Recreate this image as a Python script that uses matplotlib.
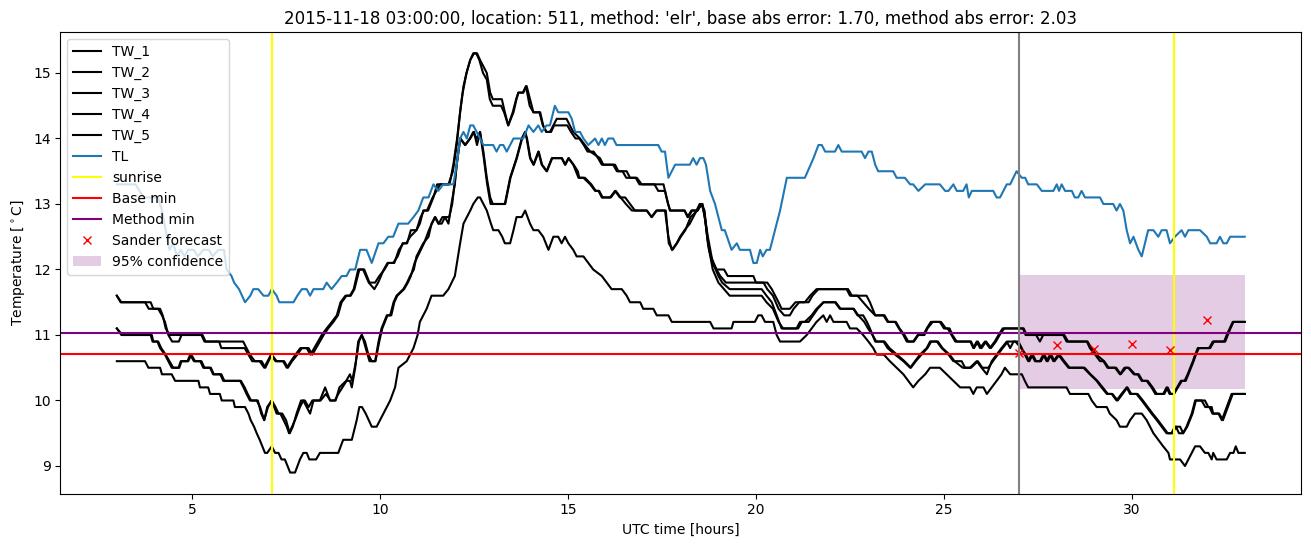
import matplotlib
matplotlib.use("Agg")
import matplotlib.pyplot as plt

TITLE = ("2015-11-18 03:00:00, location: 511, method: 'elr', "
         "base abs error: 1.70, method abs error: 2.03")

TW_1 = [
    (3.0, 11.6), (3.1, 11.5), (3.75, 11.5), (3.85, 11.4), (4.1, 11.4), (4.2, 11.3),
    (4.28, 11.2), (4.37, 11.0), (4.47, 10.9), (4.65, 10.9), (4.72, 11.0), (5.25, 11.0),
    (5.33, 10.9), (5.72, 10.9), (5.78, 10.8), (6.4, 10.8), (6.5, 10.7), (6.6, 10.6),
    (6.8, 10.6), (6.92, 10.5), (7.1, 10.7), (7.22, 10.6), (7.42, 10.6), (7.52, 10.5),
    (7.63, 10.6), (7.75, 10.7), (7.88, 10.8), (8.05, 10.8), (8.15, 10.7), (8.25, 10.8),
    (8.35, 10.9), (8.45, 11.0), (8.58, 11.1), (8.72, 11.2), (8.85, 11.3), (8.95, 11.5),
    (9.08, 11.6), (9.2, 11.6), (9.3, 11.7), (9.42, 12.0), (9.55, 12.0), (9.7, 11.8),
    (9.85, 11.7), (9.95, 11.8), (10.1, 12.0), (10.2, 12.1), (10.35, 12.1), (10.47, 12.2),
    (10.6, 12.4), (10.7, 12.4), (10.8, 12.5), (10.97, 12.6), (11.06, 12.7), (11.15, 12.9),
    (11.25, 12.9), (11.4, 13.1), (11.5, 13.2), (11.6, 13.3), (11.85, 13.3), (11.95, 13.6),
    (12.05, 14.0), (12.15, 14.5), (12.22, 14.8), (12.3, 15.0), (12.4, 15.2), (12.5, 15.3),
    (12.58, 15.3), (12.66, 15.2), (12.75, 15.1), (12.84, 15.0), (12.93, 14.7), (13.0, 14.6),
    (13.24, 14.6), (13.32, 14.4), (13.41, 14.2), (13.55, 14.4), (13.63, 14.6), (13.68, 14.7),
    (13.81, 14.7), (13.9, 14.8), (13.99, 14.6), (14.08, 14.4), (14.26, 14.4), (14.34, 14.2),
    (14.43, 14.1), (14.52, 14.1), (14.61, 14.2), (14.7, 14.3), (14.96, 14.3), (15.05, 14.2),
    (15.14, 14.1), (15.32, 14.0), (15.45, 13.9), (15.59, 13.8), (15.85, 13.7), (15.94, 13.6),
    (16.25, 13.6), (16.34, 13.5), (16.56, 13.5), (16.65, 13.4), (16.83, 13.4), (16.96, 13.3),
    (17.54, 13.3), (17.62, 13.1), (17.71, 12.9), (18.1, 12.9), (18.2, 12.8), (18.3, 12.9),
    (18.42, 12.9), (18.5, 13.0), (18.58, 13.0), (18.66, 12.7), (18.75, 12.3), (18.85, 12.1),
    (18.95, 12.0), (19.15, 12.0), (19.25, 11.9), (19.93, 11.9), (20.0, 11.8), (20.3, 11.8),
    (20.42, 11.7), (20.51, 11.6), (20.6, 11.5), (20.68, 11.4), (20.9, 11.4), (21.05, 11.5),
    (21.3, 11.5), (21.44, 11.6), (21.61, 11.7), (22.41, 11.7), (22.5, 11.6), (22.94, 11.6),
    (23.03, 11.5), (23.17, 11.3), (23.39, 11.3), (23.5, 11.2), (23.7, 11.2), (23.8, 11.1),
    (23.92, 11.0), (24.01, 10.9), (24.18, 10.9), (24.3, 11.0), (24.45, 11.0), (24.54, 11.1),
    (24.65, 11.2), (24.89, 11.2), (25.0, 11.1), (25.1, 11.1), (25.2, 11.0), (25.3, 10.9),
    (25.7, 10.9), (25.78, 10.8), (25.87, 10.9), (25.96, 10.8), (26.09, 10.9), (26.22, 10.8),
    (26.35, 10.9), (26.45, 11.0), (26.56, 11.1), (27.1, 11.1), (27.17, 11.0), (27.45, 11.0),
    (27.55, 10.9), (27.64, 11.0), (28.17, 11.0), (28.26, 10.9), (28.8, 10.9), (28.88, 10.8),
    (29.02, 10.7), (29.15, 10.6), (29.24, 10.6), (29.35, 10.5), (29.55, 10.5), (29.68, 10.4),
    (29.8, 10.5), (29.9, 10.5), (30.05, 10.4), (30.15, 10.4), (30.26, 10.3), (30.39, 10.3),
    (30.52, 10.2), (30.62, 10.1), (30.83, 10.1), (30.92, 10.2), (31.0, 10.1), (31.1, 10.1),
    (31.2, 10.2), (31.3, 10.3), (31.4, 10.3), (31.48, 10.4), (31.55, 10.5), (31.62, 10.6),
    (31.68, 10.7), (31.75, 10.8), (32.05, 10.8), (32.15, 10.9), (32.45, 10.9), (32.52, 11.0),
    (32.6, 11.1), (32.68, 11.2), (33.0, 11.2),
]

TW_2 = [
    (3.0, 11.6), (3.12, 11.5), (3.9, 11.5), (3.97, 11.4), (4.15, 11.4), (4.22, 11.3),
    (4.3, 11.1), (4.4, 11.0), (5.28, 11.0), (5.36, 10.9), (6.36, 10.9), (6.45, 10.8),
    (6.54, 10.7), (6.67, 10.6), (6.85, 10.6), (6.95, 10.5), (7.12, 10.7), (7.25, 10.6),
    (7.45, 10.6), (7.55, 10.5), (7.66, 10.6), (7.8, 10.7), (7.92, 10.8), (8.1, 10.8),
    (8.2, 10.7), (8.3, 10.8), (8.4, 10.9), (8.5, 11.0), (8.62, 11.1), (8.76, 11.2),
    (8.88, 11.3), (8.98, 11.5), (9.11, 11.6), (9.22, 11.6), (9.32, 11.7), (9.45, 12.0),
    (9.58, 12.0), (9.72, 11.8), (9.87, 11.8), (9.98, 11.9), (10.12, 12.0), (10.22, 12.1),
    (10.38, 12.1), (10.5, 12.3), (10.62, 12.4), (10.72, 12.4), (10.82, 12.6), (10.97, 12.6),
    (11.08, 12.8), (11.17, 12.9), (11.28, 12.9), (11.42, 13.1), (11.52, 13.3), (11.82, 13.3),
    (11.94, 13.5), (12.04, 13.9), (12.13, 14.4), (12.2, 14.7), (12.3, 15.0), (12.4, 15.2),
    (12.48, 15.3), (12.56, 15.3), (12.64, 15.2), (12.74, 15.0), (12.84, 14.9), (12.92, 14.6),
    (13.0, 14.5), (13.22, 14.5), (13.3, 14.4), (13.41, 14.2), (13.53, 14.4), (13.62, 14.6),
    (13.68, 14.7), (13.8, 14.7), (13.88, 14.8), (13.98, 14.5), (14.08, 14.4), (14.24, 14.4),
    (14.33, 14.2), (14.42, 14.1), (14.55, 14.1), (14.63, 14.2), (14.72, 14.2), (14.98, 14.2),
    (15.08, 14.1), (15.2, 14.0), (15.3, 14.0), (15.42, 13.9), (15.52, 13.8), (15.68, 13.8),
    (15.8, 13.7), (15.9, 13.6), (16.2, 13.6), (16.3, 13.5), (16.45, 13.5), (16.55, 13.4),
    (16.8, 13.4), (16.9, 13.3), (17.3, 13.3), (17.4, 13.2), (17.58, 13.2), (17.66, 13.0),
    (17.72, 12.9), (18.1, 12.9), (18.18, 12.8), (18.28, 12.9), (18.45, 12.9), (18.55, 13.0),
    (18.62, 12.9), (18.7, 12.5), (18.8, 12.2), (18.95, 12.0), (19.05, 11.9), (19.2, 11.8),
    (20.2, 11.8), (20.3, 11.7), (20.45, 11.6), (20.6, 11.4), (20.75, 11.3), (20.9, 11.3),
    (21.0, 11.4), (21.15, 11.5), (21.4, 11.5), (21.5, 11.6), (21.66, 11.7), (22.45, 11.7),
    (22.55, 11.6), (22.7, 11.6), (22.85, 11.5), (23.0, 11.4), (23.17, 11.3), (23.42, 11.3),
    (23.52, 11.2), (23.72, 11.2), (23.82, 11.1), (23.95, 11.0), (24.05, 10.9), (24.2, 10.9),
    (24.32, 11.0), (24.48, 11.0), (24.56, 11.1), (24.7, 11.2), (24.92, 11.2), (25.05, 11.1),
    (25.15, 11.1), (25.22, 11.0), (25.34, 10.9), (25.72, 10.9), (25.8, 10.8), (25.9, 10.9),
    (26.0, 10.8), (26.12, 10.9), (26.25, 10.8), (26.38, 10.9), (26.48, 11.0), (26.6, 11.1),
    (27.12, 11.1), (27.2, 11.0), (28.2, 11.0), (28.3, 10.9), (28.82, 10.9), (28.92, 10.8),
    (29.05, 10.7), (29.26, 10.6), (29.38, 10.5), (29.58, 10.5), (29.7, 10.4), (29.84, 10.5),
    (29.92, 10.5), (30.08, 10.4), (30.18, 10.4), (30.28, 10.3), (30.42, 10.3), (30.55, 10.2),
    (30.66, 10.1), (30.86, 10.1), (30.95, 10.2), (31.03, 10.1), (31.12, 10.1), (31.22, 10.2),
    (31.33, 10.3), (31.43, 10.3), (31.5, 10.4), (31.57, 10.5), (31.64, 10.6), (31.7, 10.7),
    (31.78, 10.8), (32.08, 10.8), (32.18, 10.9), (32.48, 10.9), (32.55, 11.0), (32.62, 11.1),
    (32.7, 11.2), (33.0, 11.2),
]

TW_3 = [
    (3.0, 11.1), (3.15, 11.0), (3.93, 11.0), (3.97, 10.9), (4.08, 10.9), (4.15, 10.8),
    (4.28, 10.7), (4.37, 10.6), (4.46, 10.5), (4.64, 10.5), (4.7, 10.6), (4.88, 10.6),
    (4.95, 10.7), (5.05, 10.6), (5.22, 10.6), (5.3, 10.5), (5.48, 10.5), (5.56, 10.4),
    (5.75, 10.4), (5.83, 10.3), (6.28, 10.3), (6.37, 10.2), (6.45, 10.1), (6.54, 10.0),
    (6.72, 10.0), (6.81, 9.9), (6.92, 9.7), (7.0, 9.9), (7.12, 10.0), (7.25, 9.8),
    (7.35, 9.8), (7.52, 9.6), (7.58, 9.5), (7.74, 9.7), (7.87, 9.9), (7.96, 10.0),
    (8.05, 9.9), (8.14, 9.8), (8.23, 10.0), (8.4, 10.0), (8.54, 10.2), (8.67, 10.0),
    (8.8, 10.0), (8.89, 10.1), (9.0, 10.2), (9.11, 10.3), (9.2, 10.3), (9.25, 10.2),
    (9.34, 10.5), (9.42, 10.9), (9.51, 11.0), (9.6, 10.9), (9.69, 10.7), (9.78, 10.6),
    (9.87, 10.6), (9.96, 10.9), (10.04, 11.1), (10.18, 11.3), (10.27, 11.3), (10.36, 11.5),
    (10.44, 11.6), (10.62, 11.7), (10.72, 11.8), (10.8, 11.9), (10.9, 12.0), (10.97, 12.2),
    (11.15, 12.4), (11.29, 12.5), (11.37, 12.7), (11.46, 12.8), (11.55, 12.7), (11.64, 12.7),
    (11.73, 12.8), (11.82, 12.7), (11.9, 13.0), (11.99, 13.3), (12.04, 13.6), (12.13, 14.0),
    (12.26, 13.9), (12.39, 14.0), (12.48, 14.1), (12.57, 14.0), (12.66, 14.1), (12.75, 13.8),
    (12.84, 13.4), (12.93, 13.1), (13.0, 13.0), (13.32, 13.0), (13.46, 13.4), (13.63, 13.7),
    (13.77, 14.0), (13.86, 14.1), (13.9, 14.0), (13.99, 13.7), (14.08, 13.6), (14.21, 13.8),
    (14.3, 13.6), (14.43, 13.5), (14.57, 13.7), (14.83, 13.7), (14.92, 13.6), (15.01, 13.7),
    (15.14, 13.6), (15.28, 13.4), (15.41, 13.4), (15.59, 13.3), (15.72, 13.2), (15.81, 13.2),
    (15.9, 13.1), (16.12, 13.1), (16.25, 13.2), (16.38, 13.1), (16.52, 13.1), (16.65, 13.0),
    (16.78, 12.9), (17.09, 12.9), (17.23, 12.8), (17.36, 12.9), (17.58, 12.9), (17.67, 12.5),
    (17.76, 12.3), (17.89, 12.4), (17.98, 12.5), (18.1, 12.6), (18.24, 12.7), (18.42, 12.9),
    (18.56, 13.0), (18.64, 12.8), (18.72, 12.5), (18.85, 12.1), (19.0, 11.9), (19.1, 11.8),
    (19.3, 11.7), (20.15, 11.7), (20.28, 11.6), (20.42, 11.5), (20.55, 11.3), (20.68, 11.1),
    (21.08, 11.1), (21.17, 11.2), (21.3, 11.2), (21.48, 11.3), (21.61, 11.4), (21.79, 11.5),
    (22.1, 11.5), (22.23, 11.4), (22.59, 11.4), (22.7, 11.3), (22.85, 11.3), (22.95, 11.2),
    (23.03, 11.1), (23.17, 10.9), (23.39, 10.9), (23.5, 10.8), (23.7, 10.7), (23.92, 10.6),
    (24.1, 10.5), (24.23, 10.6), (24.36, 10.7), (24.54, 10.8), (24.63, 10.9), (24.81, 10.9),
    (24.94, 10.8), (25.12, 10.7), (25.25, 10.6), (25.47, 10.6), (25.56, 10.5), (25.69, 10.5),
    (25.87, 10.6), (26.0, 10.5), (26.14, 10.4), (26.27, 10.6), (26.4, 10.7), (26.53, 10.8),
    (26.67, 10.9), (26.76, 10.8), (26.85, 10.9), (26.98, 10.9), (27.07, 10.8), (27.15, 10.7),
    (27.24, 10.6), (27.33, 10.7), (27.42, 10.6), (27.55, 10.6), (27.64, 10.7), (27.73, 10.6),
    (27.82, 10.7), (27.91, 10.6), (28.04, 10.7), (28.17, 10.6), (28.31, 10.5), (28.71, 10.5),
    (28.88, 10.4), (29.06, 10.3), (29.19, 10.2), (29.33, 10.1), (29.46, 10.1), (29.59, 10.0),
    (29.72, 10.1), (29.86, 10.2), (29.95, 10.1), (30.12, 10.1), (30.26, 10.0), (30.39, 9.9),
    (30.52, 9.8), (30.66, 9.7), (30.79, 9.6), (30.92, 9.5), (31.05, 9.5), (31.14, 9.6),
    (31.28, 9.6), (31.36, 9.5), (31.45, 9.6), (31.59, 9.8), (31.68, 10.0), (31.94, 10.0),
    (32.03, 9.9), (32.12, 9.9), (32.16, 9.8), (32.3, 9.8), (32.39, 9.7), (32.52, 9.9),
    (32.65, 10.1), (33.0, 10.1),
]

TW_4 = [
    (3.0, 11.1), (3.12, 11.0), (3.9, 11.0), (3.95, 10.9), (4.1, 10.9), (4.18, 10.8),
    (4.3, 10.7), (4.4, 10.6), (4.5, 10.5), (4.66, 10.5), (4.72, 10.6), (4.9, 10.6),
    (4.98, 10.7), (5.08, 10.6), (5.25, 10.6), (5.33, 10.5), (5.5, 10.5), (5.58, 10.4),
    (5.78, 10.4), (5.86, 10.3), (6.3, 10.3), (6.4, 10.2), (6.48, 10.1), (6.57, 10.0),
    (6.75, 10.0), (6.84, 9.8), (6.92, 9.7), (7.02, 9.9), (7.12, 10.0), (7.22, 9.9),
    (7.3, 9.8), (7.4, 9.8), (7.5, 9.7), (7.6, 9.5), (7.68, 9.6), (7.78, 9.8),
    (7.9, 10.0), (8.0, 10.0), (8.1, 9.9), (8.2, 10.0), (8.42, 10.0), (8.56, 10.1),
    (8.68, 10.0), (8.82, 10.0), (8.92, 10.2), (9.1, 10.3), (9.2, 10.4), (9.26, 10.3),
    (9.36, 10.6), (9.44, 10.9), (9.52, 11.0), (9.62, 10.8), (9.72, 10.6), (9.88, 10.6),
    (9.98, 10.9), (10.06, 11.1), (10.2, 11.3), (10.3, 11.3), (10.38, 11.5), (10.46, 11.6),
    (10.64, 11.7), (10.74, 11.8), (10.82, 11.9), (10.92, 12.1), (11.0, 12.2), (11.17, 12.4),
    (11.3, 12.6), (11.38, 12.7), (11.47, 12.8), (11.56, 12.7), (11.66, 12.8), (11.75, 12.8),
    (11.84, 12.8), (11.92, 13.0), (12.0, 13.4), (12.06, 13.7), (12.14, 14.0), (12.27, 13.9),
    (12.4, 14.0), (12.5, 14.1), (12.58, 13.9), (12.66, 14.1), (12.76, 13.7), (12.85, 13.3),
    (12.94, 13.0), (13.33, 13.0), (13.47, 13.4), (13.64, 13.7), (13.78, 14.0), (13.86, 14.1),
    (13.91, 14.0), (14.0, 13.7), (14.09, 13.6), (14.22, 13.8), (14.31, 13.6), (14.44, 13.5),
    (14.58, 13.7), (14.84, 13.7), (14.93, 13.6), (15.02, 13.7), (15.15, 13.6), (15.26, 13.5),
    (15.3, 13.4), (15.45, 13.4), (15.62, 13.3), (15.74, 13.2), (15.83, 13.2), (15.92, 13.1),
    (16.14, 13.1), (16.27, 13.2), (16.4, 13.1), (16.54, 13.0), (16.7, 12.9), (17.1, 12.9),
    (17.22, 12.8), (17.35, 12.9), (17.6, 12.9), (17.68, 12.4), (17.78, 12.3), (17.9, 12.4),
    (18.0, 12.5), (18.12, 12.6), (18.26, 12.8), (18.44, 12.9), (18.55, 13.0), (18.63, 12.9),
    (18.72, 12.4), (18.85, 12.0), (19.0, 11.8), (19.15, 11.7), (19.3, 11.6), (20.15, 11.6),
    (20.28, 11.5), (20.45, 11.4), (20.6, 11.2), (20.72, 11.1), (21.12, 11.1), (21.22, 11.2),
    (21.4, 11.2), (21.52, 11.3), (21.64, 11.4), (21.8, 11.5), (22.12, 11.5), (22.25, 11.4),
    (22.6, 11.4), (22.72, 11.3), (22.88, 11.2), (22.98, 11.1), (23.1, 11.0), (23.2, 10.9),
    (23.42, 10.9), (23.55, 10.8), (23.75, 10.7), (23.95, 10.6), (24.12, 10.5), (24.25, 10.6),
    (24.4, 10.7), (24.56, 10.8), (24.66, 10.9), (24.84, 10.9), (24.96, 10.8), (25.15, 10.7),
    (25.28, 10.6), (25.5, 10.5), (25.72, 10.5), (25.9, 10.6), (26.02, 10.5), (26.18, 10.5),
    (26.3, 10.6), (26.43, 10.7), (26.56, 10.8), (26.7, 10.9), (26.9, 10.9), (27.05, 10.8),
    (27.18, 10.7), (27.27, 10.6), (27.36, 10.7), (27.45, 10.6), (27.58, 10.6), (27.67, 10.7),
    (27.76, 10.6), (27.85, 10.7), (27.94, 10.6), (28.07, 10.7), (28.2, 10.6), (28.34, 10.5),
    (28.74, 10.5), (28.9, 10.4), (29.08, 10.3), (29.22, 10.2), (29.36, 10.1), (29.48, 10.1),
    (29.62, 10.0), (29.75, 10.1), (29.88, 10.2), (29.98, 10.1), (30.15, 10.1), (30.29, 10.0),
    (30.42, 9.9), (30.55, 9.8), (30.69, 9.7), (30.82, 9.6), (30.95, 9.5), (31.08, 9.5),
    (31.17, 9.6), (31.25, 9.5), (31.36, 9.5), (31.47, 9.6), (31.61, 9.8), (31.7, 10.0),
    (31.85, 10.0), (31.95, 9.9), (32.06, 9.9), (32.14, 9.8), (32.32, 9.8), (32.42, 9.7),
    (32.55, 9.9), (32.68, 10.1), (33.0, 10.1),
]

TW_5 = [
    (3.0, 10.6), (3.75, 10.6), (3.84, 10.5), (4.15, 10.5), (4.2, 10.4), (4.46, 10.4),
    (4.55, 10.3), (5.17, 10.3), (5.21, 10.2), (5.43, 10.2), (5.48, 10.1), (5.74, 10.1),
    (5.79, 10.0), (6.1, 10.0), (6.14, 9.9), (6.41, 9.9), (6.5, 9.8), (6.56, 9.7),
    (6.65, 9.6), (6.72, 9.5), (6.8, 9.4), (6.87, 9.3), (6.94, 9.2), (7.0, 9.2),
    (7.12, 9.3), (7.21, 9.2), (7.3, 9.2), (7.38, 9.1), (7.47, 9.1), (7.61, 8.9),
    (7.74, 8.9), (7.87, 9.1), (7.96, 9.2), (8.05, 9.2), (8.12, 9.1), (8.3, 9.1),
    (8.4, 9.2), (8.89, 9.2), (9.02, 9.4), (9.25, 9.4), (9.38, 9.7), (9.45, 9.9),
    (9.52, 9.9), (9.62, 9.8), (9.78, 9.6), (9.91, 9.6), (10.0, 9.7), (10.27, 10.0),
    (10.4, 10.2), (10.49, 10.5), (10.71, 10.6), (10.89, 10.8), (11.0, 11.0), (11.06, 11.2),
    (11.24, 11.4), (11.37, 11.6), (11.68, 11.6), (11.82, 11.7), (11.99, 11.9), (12.13, 12.4),
    (12.22, 12.7), (12.4, 12.9), (12.48, 13.0), (12.6, 13.1), (12.66, 13.1), (12.84, 12.9),
    (12.95, 12.7), (13.01, 12.6), (13.15, 12.6), (13.25, 12.5), (13.32, 12.4), (13.46, 12.4),
    (13.55, 12.6), (13.63, 12.8), (13.77, 12.8), (13.86, 12.9), (13.99, 12.7), (14.08, 12.6),
    (14.21, 12.6), (14.34, 12.5), (14.48, 12.3), (14.61, 12.5), (14.74, 12.5), (14.83, 12.4),
    (14.92, 12.5), (15.01, 12.4), (15.14, 12.3), (15.23, 12.2), (15.41, 12.2), (15.54, 12.1),
    (15.67, 12.0), (15.9, 11.9), (16.03, 11.8), (16.16, 11.7), (16.43, 11.7), (16.56, 11.6),
    (16.65, 11.5), (16.92, 11.5), (17.0, 11.4), (17.27, 11.4), (17.36, 11.3), (17.67, 11.3),
    (17.76, 11.2), (18.78, 11.2), (18.87, 11.1), (19.35, 11.1), (19.4, 11.2), (19.97, 11.2),
    (20.06, 11.3), (20.15, 11.3), (20.24, 11.2), (20.46, 11.2), (20.55, 11.0), (20.64, 10.9),
    (21.17, 10.9), (21.35, 11.0), (21.48, 11.1), (21.61, 11.2), (21.79, 11.3), (21.88, 11.2),
    (21.97, 11.3), (22.06, 11.2), (22.41, 11.2), (22.5, 11.1), (22.68, 11.1), (22.85, 11.0),
    (22.99, 10.9), (23.12, 10.8), (23.21, 10.7), (23.4, 10.7), (23.56, 10.6), (23.74, 10.5),
    (23.92, 10.4), (24.05, 10.3), (24.18, 10.2), (24.32, 10.3), (24.5, 10.4), (24.63, 10.5),
    (24.89, 10.5), (25.07, 10.4), (25.25, 10.3), (25.43, 10.2), (25.69, 10.2), (25.78, 10.1),
    (25.87, 10.2), (26.05, 10.2), (26.14, 10.1), (26.27, 10.2), (26.4, 10.3), (26.53, 10.4),
    (26.62, 10.5), (26.76, 10.4), (27.07, 10.4), (27.15, 10.3), (27.24, 10.2), (28.26, 10.2),
    (28.35, 10.1), (28.84, 10.1), (28.93, 10.0), (29.06, 9.9), (29.33, 9.9), (29.41, 9.8),
    (29.59, 9.7), (29.68, 9.6), (29.86, 9.6), (29.95, 9.7), (30.08, 9.8), (30.26, 9.8),
    (30.39, 9.7), (30.57, 9.5), (30.7, 9.4), (30.83, 9.3), (30.97, 9.2), (31.01, 9.1),
    (31.28, 9.1), (31.41, 9.0), (31.59, 9.2), (31.68, 9.3), (31.81, 9.3), (31.94, 9.2),
    (32.03, 9.2), (32.12, 9.1), (32.16, 9.2), (32.25, 9.1), (32.52, 9.1), (32.61, 9.2),
    (32.7, 9.2), (32.76, 9.3), (32.83, 9.2), (33.0, 9.2),
]

TL = [
    (3.0, 13.3), (3.5, 13.3), (3.6, 13.2), (3.72, 13.1), (4.1, 13.1), (4.2, 12.9),
    (4.3, 12.6), (4.4, 12.3), (4.5, 12.4), (4.6, 12.2), (4.7, 12.3), (4.8, 12.2),
    (4.9, 12.3), (5.05, 12.3), (5.15, 12.2), (5.3, 12.3), (5.45, 12.3), (5.55, 12.2),
    (5.7, 12.3), (5.85, 12.3), (5.92, 12.0), (6.05, 11.9), (6.12, 11.8), (6.25, 11.7),
    (6.41, 11.5), (6.55, 11.6), (6.63, 11.7), (6.76, 11.7), (6.9, 11.6), (7.03, 11.6),
    (7.12, 11.7), (7.25, 11.6), (7.32, 11.5), (7.7, 11.5), (7.8, 11.6), (7.92, 11.7),
    (8.05, 11.7), (8.14, 11.6), (8.23, 11.7), (8.49, 11.7), (8.58, 11.8), (8.71, 11.7),
    (8.85, 11.8), (8.98, 11.9), (9.11, 11.9), (9.2, 12.0), (9.34, 12.0), (9.47, 12.3),
    (9.64, 12.3), (9.78, 12.1), (9.96, 12.4), (10.09, 12.4), (10.22, 12.5), (10.35, 12.5),
    (10.49, 12.7), (10.75, 12.7), (10.89, 12.8), (11.02, 12.9), (11.15, 13.1), (11.29, 13.1),
    (11.42, 13.3), (11.55, 13.2), (11.68, 13.3), (11.95, 13.3), (12.04, 13.6), (12.13, 14.0),
    (12.22, 14.1), (12.31, 14.0), (12.4, 14.2), (12.48, 14.2), (12.57, 14.1), (12.66, 14.0),
    (12.75, 13.9), (13.01, 13.9), (13.1, 13.8), (13.19, 13.9), (13.28, 13.9), (13.37, 13.8),
    (13.55, 14.0), (13.81, 14.0), (13.95, 14.2), (14.08, 14.1), (14.21, 14.2), (14.3, 14.1),
    (14.43, 14.2), (14.52, 14.2), (14.65, 14.5), (14.74, 14.4), (15.01, 14.4), (15.1, 14.3),
    (15.19, 14.1), (15.32, 14.1), (15.41, 14.0), (15.54, 13.9), (15.72, 14.0), (15.81, 13.9),
    (15.9, 14.0), (15.98, 13.9), (16.07, 14.0), (16.2, 14.0), (16.29, 13.9), (17.4, 13.9),
    (17.49, 13.8), (17.58, 13.8), (17.67, 13.4), (17.76, 13.5), (17.85, 13.6), (18.24, 13.6),
    (18.33, 13.7), (18.42, 13.6), (18.51, 13.7), (18.6, 13.7), (18.67, 13.6), (18.78, 13.2),
    (18.91, 13.0), (19.0, 12.8), (19.09, 12.6), (19.17, 12.6), (19.35, 12.3), (19.49, 12.4),
    (19.57, 12.3), (19.84, 12.3), (19.93, 12.1), (20.02, 12.1), (20.11, 12.3), (20.18, 12.2),
    (20.28, 12.3), (20.37, 12.3), (20.46, 12.5), (20.64, 12.9), (20.82, 13.4), (21.3, 13.4),
    (21.53, 13.7), (21.66, 13.9), (21.75, 13.9), (21.84, 13.8), (22.1, 13.8), (22.19, 13.9),
    (22.28, 13.8), (22.81, 13.8), (22.9, 13.7), (22.99, 13.8), (23.08, 13.8), (23.17, 13.6),
    (23.25, 13.5), (23.65, 13.5), (23.74, 13.4), (23.96, 13.4), (24.1, 13.3), (24.18, 13.3),
    (24.32, 13.2), (24.5, 13.3), (24.89, 13.3), (25.03, 13.2), (25.12, 13.2), (25.25, 13.3),
    (25.34, 13.2), (25.51, 13.2), (25.6, 13.3), (25.66, 13.1), (25.74, 13.2), (26.31, 13.2),
    (26.4, 13.1), (26.49, 13.1), (26.67, 13.3), (26.76, 13.3), (26.93, 13.5), (27.07, 13.4),
    (27.16, 13.4), (27.24, 13.3), (27.47, 13.3), (27.6, 13.2), (27.91, 13.2), (28.0, 13.3),
    (28.06, 13.2), (28.13, 13.3), (28.22, 13.2), (28.4, 13.2), (28.48, 13.1), (28.57, 13.1),
    (28.66, 13.2), (28.75, 13.1), (29.15, 13.1), (29.24, 13.0), (29.5, 13.0), (29.59, 12.9),
    (29.68, 13.0), (29.77, 12.9), (29.86, 12.6), (29.95, 12.4), (30.04, 12.5), (30.17, 12.3),
    (30.26, 12.2), (30.43, 12.6), (30.57, 12.6), (30.7, 12.5), (30.79, 12.6), (30.92, 12.6),
    (31.01, 12.4), (31.14, 12.5), (31.32, 12.6), (31.41, 12.5), (31.5, 12.6), (31.81, 12.6),
    (31.99, 12.5), (32.08, 12.4), (32.25, 12.4), (32.34, 12.5), (32.43, 12.4), (32.52, 12.4),
    (32.61, 12.5), (33.0, 12.5),
]

SUNRISE = [7.12, 31.13]
BASE_MIN = 10.71
METHOD_MIN = 11.03
FORECAST_START = 27.0
FORECAST_T = [27, 28, 29, 30, 31, 32]
FORECAST_V = [10.72, 10.85, 10.78, 10.87, 10.77, 11.23]
CONF_T = [27, 33]
CONF_LO = [10.17, 10.17]
CONF_HI = [11.92, 11.92]


def unzip(series):
    return [p[0] for p in series], [p[1] for p in series]


fig, ax = plt.subplots(figsize=(13.11, 5.47), dpi=100)
fig.subplots_adjust(left=0.0461, right=0.9925, top=0.9408, bottom=0.0978)

for name, series in [("TW_1", TW_1), ("TW_2", TW_2), ("TW_3", TW_3),
                     ("TW_4", TW_4), ("TW_5", TW_5)]:
    t, v = unzip(series)
    ax.plot(t, v, color="black", label=name)

t, v = unzip(TL)
ax.plot(t, v, color="tab:blue", label="TL")

ax.axvline(SUNRISE[0], color="yellow", label="sunrise")
ax.axvline(SUNRISE[1], color="yellow")
ax.axhline(BASE_MIN, color="red", label="Base min")
ax.axhline(METHOD_MIN, color="purple", label="Method min")
ax.plot(FORECAST_T, FORECAST_V, "x", color="red", label="Sander forecast")
ax.fill_between(CONF_T, CONF_LO, CONF_HI, color="purple", alpha=0.2,
                linewidth=0, label="95% confidence")
ax.axvline(FORECAST_START, color="gray")

ax.set_title(TITLE)
ax.set_xlabel("UTC time [hours]")
ax.set_ylabel("Temperature [$^\\circ$C]")
ax.legend(loc="upper left")

fig.savefig("out.png", dpi=100)
